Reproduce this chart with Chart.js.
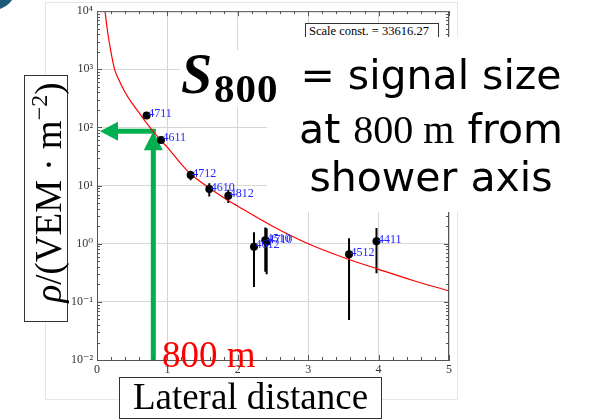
<!DOCTYPE html>
<html><head><meta charset="utf-8">
<script src="https://cdn.jsdelivr.net/npm/chart.js@4.4.1/dist/chart.umd.min.js"></script>
<style>
html,body{margin:0;padding:0;background:#fff;width:589px;height:419px;overflow:hidden;}
#wrap{position:relative;width:589px;height:419px;overflow:hidden;}
#c{position:absolute;left:0;top:0;width:589px;height:419px;}
.ov{position:absolute;white-space:nowrap;}
.serif{font-family:"Liberation Serif","DejaVu Serif",serif;}
.big{left:271px;width:320px;text-align:center;font-family:'DejaVu Sans',sans-serif;font-size:41px;line-height:51px;color:#000;}
</style></head><body>
<div id="wrap">
<div class="ov" style="left:-30px;top:-36px;width:46px;height:46px;border-radius:50%;background:#1d5b78;"></div>
<div class="ov" style="left:45px;top:2px;width:411px;height:396px;border:1px solid #e6e6e6;"></div>
<canvas id="c" width="589" height="419"></canvas>

<div class="ov serif" id="scaleBox" style="left:305px;top:23px;width:134px;height:16px;border:1px solid #333;background:#fff;font-size:12.5px;line-height:14px;padding-left:3px;box-sizing:border-box;"></div>
<div class="ov" style="left:267px;top:37px;width:330px;height:175px;background:#fff;"></div>
<div class="ov" style="left:180px;top:50px;width:90px;height:57px;background:#fff;"></div>
<div class="ov serif" style="left:181px;top:46px;font-size:56px;line-height:1;font-weight:bold;font-style:italic;color:#000;">S</div>
<div class="ov serif" style="left:214px;top:68px;font-size:41px;line-height:1;font-weight:bold;color:#000;letter-spacing:1px;">800</div>
<div class="ov big" style="top:50px;">= signal size</div>
<div class="ov big" style="top:104px;">at <span class="serif" style="font-size:40px;">800 m</span> from</div>
<div class="ov big" style="top:152px;">shower axis</div>

<div class="ov serif" style="left:162px;top:336px;font-size:37px;line-height:1;color:#ff0000;">800 m</div>

<div class="ov serif" style="left:119px;top:377px;width:263px;height:42px;border:1.5px solid #333;box-sizing:border-box;background:#fff;text-align:center;font-size:37px;line-height:38px;">Lateral distance</div>

<div class="ov" style="left:24px;top:75px;width:44px;height:247px;border:1.5px solid #333;box-sizing:border-box;background:#fff;">
  <div class="serif" style="position:absolute;left:-103px;top:100px;width:247px;height:44px;transform:rotate(-90deg);text-align:center;font-size:37px;line-height:50px;padding-left:11px;box-sizing:border-box;"><i>ρ</i>/(VEM · m<sup style="font-size:24px;vertical-align:0;position:relative;top:-14px;">−2</sup>)</div>
</div>
</div>
<script>
// ---- data ----
const pointNames = ['4711','4611','4712','4610','4812','4612','4510','4710','4512','4411'];
const pointR     = [0.705, 0.909, 1.33, 1.595, 1.865, 2.23, 2.39, 2.41, 3.58, 3.97];
const pointRho   = [160, 61, 15.2, 8.7, 6.7, 0.89, 1.15, 1.08, 0.66, 1.10];
const errLow     = [148, 56, 12.4, 6.5, 5.0, 0.18, 0.33, 0.30, 0.049, 0.31];
const errHigh    = [172, 66, 18.0, 11.0, 8.5, 1.57, 1.91, 1.85, 1.24, 1.86];

const fitR   = [0.114, 0.15, 0.2, 0.25, 0.3, 0.4, 0.5, 0.6, 0.7, 0.8, 0.9, 1.0, 1.2, 1.32, 1.4, 1.6, 1.8, 2.0, 2.5, 3.0, 3.5, 4.0, 4.5, 5.0];
const fitRho = [10000, 4470, 1930, 1000, 701, 400, 259, 178, 121, 84.7, 61, 45.5, 23.1, 16.2, 13.5, 9.0, 6.2, 4.43, 1.98, 1.0, 0.58, 0.363, 0.231, 0.155];

const xTickValues = [0, 1, 2, 3, 4, 5];
const yTickValues = [1e-2, 1e-1, 1e0, 1e1, 1e2, 1e3, 1e4];
const yTickLabels = ['10⁻²', '10⁻¹', '10⁰', '10¹', '10²', '10³', '10⁴'];

const s800R = 0.8;
const s800Rho = 86;
const scaleConst = '33616.27';

document.getElementById('scaleBox').textContent = 'Scale const. = ' + scaleConst;

const serif = '"Liberation Serif","DejaVu Serif",serif';

const errorBarPlugin = {
  id: 'errorBars',
  beforeDatasetsDraw(chart) {
    const {ctx} = chart, xs = chart.scales.x, ys = chart.scales.y;
    ctx.save();
    const g = '#00b050';
    const px = xs.getPixelForValue(s800R), py = ys.getPixelForValue(s800Rho);
    const a = chart.chartArea;
    ctx.strokeStyle = g; ctx.fillStyle = g; ctx.lineWidth = 5;
    ctx.beginPath(); ctx.moveTo(px, a.bottom); ctx.lineTo(px, py + 18); ctx.stroke();
    ctx.beginPath(); ctx.moveTo(px - 9.5, py + 19); ctx.lineTo(px + 9.5, py + 19); ctx.lineTo(px, py); ctx.closePath(); ctx.fill();
    const tip = a.left + 3;
    ctx.beginPath(); ctx.moveTo(px + 2.5, py); ctx.lineTo(tip + 17, py); ctx.stroke();
    ctx.beginPath(); ctx.moveTo(tip + 18, py - 9.5); ctx.lineTo(tip + 18, py + 9.5); ctx.lineTo(tip, py); ctx.closePath(); ctx.fill();
    ctx.strokeStyle = '#000'; ctx.lineWidth = 2;
    ctx.beginPath(); ctx.rect(a.left, a.top, a.right - a.left, a.bottom - a.top); ctx.clip();
    pointR.forEach((r, i) => {
      const x = xs.getPixelForValue(r);
      ctx.beginPath();
      ctx.moveTo(x, ys.getPixelForValue(errLow[i]));
      ctx.lineTo(x, ys.getPixelForValue(errHigh[i]));
      ctx.stroke();
    });
    ctx.restore();
  },
  afterDatasetsDraw(chart) {
    const {ctx} = chart, xs = chart.scales.x, ys = chart.scales.y;
    ctx.save();
    ctx.fillStyle = '#2424ff';
    ctx.font = '12px ' + serif;
    ctx.textBaseline = 'alphabetic'; ctx.textAlign = 'left';
    pointNames.forEach((n, i) => {
      ctx.fillText(n, xs.getPixelForValue(pointR[i]) + 1.5, ys.getPixelForValue(pointRho[i]) + 1.5);
    });
    ctx.restore();
  },
  afterDraw(chart) {
    const {ctx} = chart, xs = chart.scales.x, ys = chart.scales.y, a = chart.chartArea;
    ctx.save();
    ctx.strokeStyle = '#555'; ctx.lineWidth = 1;
    ctx.beginPath();
    ctx.moveTo(a.left, a.top + 0.5); ctx.lineTo(a.right, a.top + 0.5);
    ctx.moveTo(a.right - 0.5, a.top); ctx.lineTo(a.right - 0.5, a.bottom);
    for (let d = -2; d < 4; d++) {
      for (let m = 1; m <= 9; m++) {
        const y = Math.round(ys.getPixelForValue(m * Math.pow(10, d))) + 0.5;
        const L = m === 1 ? 5 : 3;
        ctx.moveTo(a.left, y); ctx.lineTo(a.left + L, y);
        ctx.moveTo(a.right, y); ctx.lineTo(a.right - L, y);
      }
    }
    for (let k = 0; k <= 25; k++) {
      const x = Math.round(xs.getPixelForValue(k * 0.2)) + 0.5;
      const L = k % 5 === 0 ? 5 : 3;
      ctx.moveTo(x, a.bottom); ctx.lineTo(x, a.bottom - L);
      ctx.moveTo(x, a.top); ctx.lineTo(x, a.top + L);
    }
    ctx.stroke();
    ctx.restore();
  }
};

new Chart(document.getElementById('c'), {
  type: 'scatter',
  data: {
    datasets: [
      {
        label: 'fit',
        data: fitR.map((r, i) => ({x: r, y: fitRho[i]})),
        showLine: true,
        borderColor: '#ff0000',
        borderWidth: 1.2,
        pointRadius: 0,
        cubicInterpolationMode: 'monotone',
        order: 2
      },
      {
        label: 'stations',
        data: pointR.map((r, i) => ({x: r, y: pointRho[i]})),
        backgroundColor: '#000',
        borderColor: '#000',
        pointRadius: 4,
        borderWidth: 0,
        order: 1
      }
    ]
  },
  options: {
    responsive: false,
    animation: false,
    devicePixelRatio: 1,
    layout: {padding: {left: 40, right: 140, top: 11, bottom: 29}},
    plugins: {legend: {display: false}, tooltip: {enabled: false}},
    scales: {
      x: {
        type: 'linear', min: 0, max: 5,
        afterFit(s) { s.height = 30; },
        afterBuildTicks(s) { s.ticks = xTickValues.map(v => ({value: v})); },
        grid: {color: '#d6d6d6', lineWidth: 1, drawTicks: false},
        border: {color: '#555', width: 1},
        ticks: {color: '#333', font: {family: serif, size: 12}, padding: 3, callback: v => String(v)}
      },
      y: {
        type: 'logarithmic', min: 1e-2, max: 1e4,
        afterFit(s) { s.width = 57; },
        afterBuildTicks(s) { s.ticks = yTickValues.map(v => ({value: v})); },
        grid: {color: '#d6d6d6', lineWidth: 1, drawTicks: false},
        border: {color: '#555', width: 1},
        ticks: {
          color: '#333', font: {family: serif, size: 12}, padding: 4,
          callback: (v) => { const i = yTickValues.findIndex(t => Math.abs(Math.log10(t) - Math.log10(v)) < 1e-6); return i >= 0 ? yTickLabels[i] : ''; }
        }
      }
    }
  },
  plugins: [errorBarPlugin]
});
</script>
</body></html>
